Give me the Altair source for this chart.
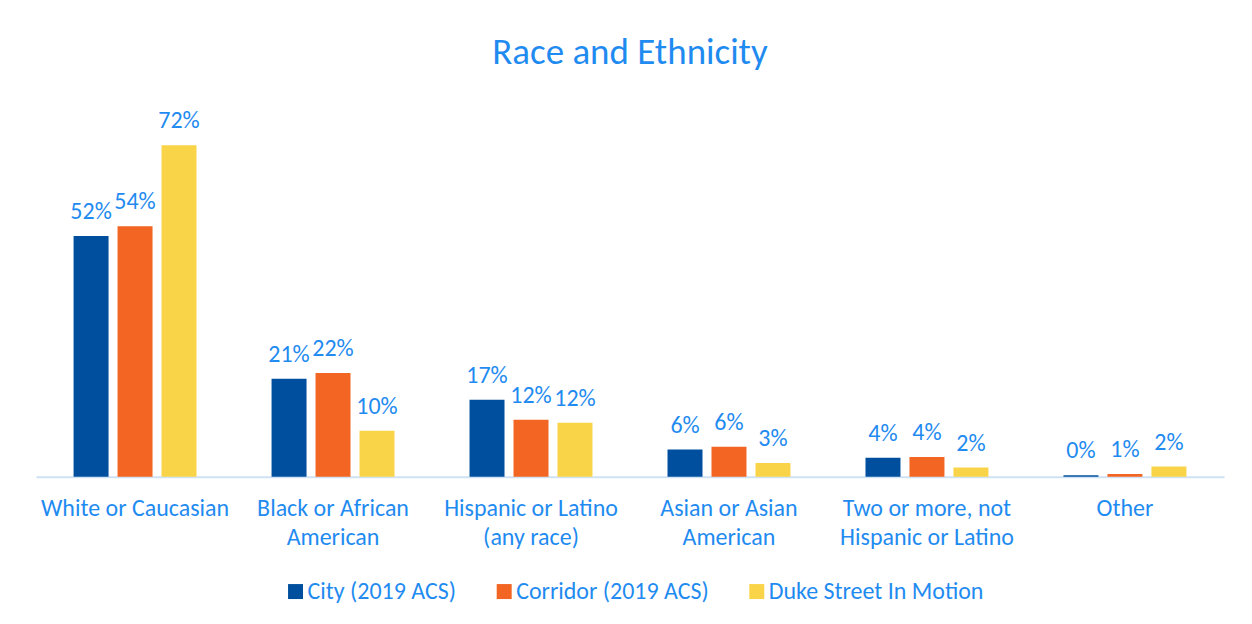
import altair as alt
import pandas as pd

categories = ["White or Caucasian", "Black or African\nAmerican", "Hispanic or Latino\n(any race)",
              "Asian or Asian\nAmerican", "Two or more, not\nHispanic or Latino", "Other"]
series = ["City (2019 ACS)", "Corridor (2019 ACS)", "Duke Street In Motion"]
city = [52.3, 21.3, 16.7, 5.9, 4.1, 0.3]
corridor = [54.4, 22.5, 12.4, 6.5, 4.3, 0.6]
duke = [72.0, 10.0, 11.7, 3.0, 2.0, 2.2]
city_lbl = ["52%", "21%", "17%", "6%", "4%", "0%"]
corridor_lbl = ["54%", "22%", "12%", "6%", "4%", "1%"]
duke_lbl = ["72%", "10%", "12%", "3%", "2%", "2%"]

rows = []
for s, vals, lbls in zip(series, [city, corridor, duke], [city_lbl, corridor_lbl, duke_lbl]):
    for c, v, l in zip(categories, vals, lbls):
        rows.append({"category": c, "series": s, "value": v, "label": l})
df = pd.DataFrame(rows)

FONT = "Carlito, Open Sans"
BLUE = "#1F8BF0"
colors = ["#004F9E", "#F26522", "#F9D448"]

base = alt.Chart(df).encode(
    x=alt.X("category:N", sort=categories,
            scale=alt.Scale(paddingInner=0.379, paddingOuter=0.19),
            axis=alt.Axis(title=None, labelAngle=0, ticks=False, domainColor="#CFE2F5",
                          domainWidth=2, labelColor=BLUE, labelFont=FONT, labelFontSize=24,
                          labelPadding=32, labelLineHeight=29, labelBaseline="middle",
                          labelLimit=0, labelExpr="split(datum.label, '\\n')")),
    xOffset=alt.XOffset("series:N", sort=series,
                        scale=alt.Scale(paddingInner=0.2045, paddingOuter=0)),
    y=alt.Y("value:Q", scale=alt.Scale(domain=[0, 80]), axis=None),
)

bars = base.mark_bar().encode(
    color=alt.Color("series:N", sort=series, scale=alt.Scale(domain=series, range=colors),
                    legend=alt.Legend(title=None, orient="none", direction="horizontal",
                                      legendX=248, legendY=472,
                                      symbolType="square", symbolSize=225,
                                      symbolStrokeWidth=0, labelColor=BLUE,
                                      labelFont=FONT, labelFontSize=24, columnPadding=36,
                                      symbolOffset=0, labelOffset=0, labelLimit=0))
)

text = base.mark_text(baseline="alphabetic", dy=-17, font=FONT, fontSize=24, color=BLUE).encode(
    text="label:N"
)

chart = alt.layer(bars, text).properties(
    width=1190, height=369,
    title=alt.Title("Race and Ethnicity", color=BLUE, font=FONT, fontSize=37,
                    fontWeight="normal", anchor="middle", offset=36),
    autosize=alt.AutoSizeParams(type="none"),
    padding={"left": 28, "top": 100, "right": 20, "bottom": 140},
).configure_view(stroke=None)

chart.save("out.html", embed_options={"renderer": "svg", "actions": False})
